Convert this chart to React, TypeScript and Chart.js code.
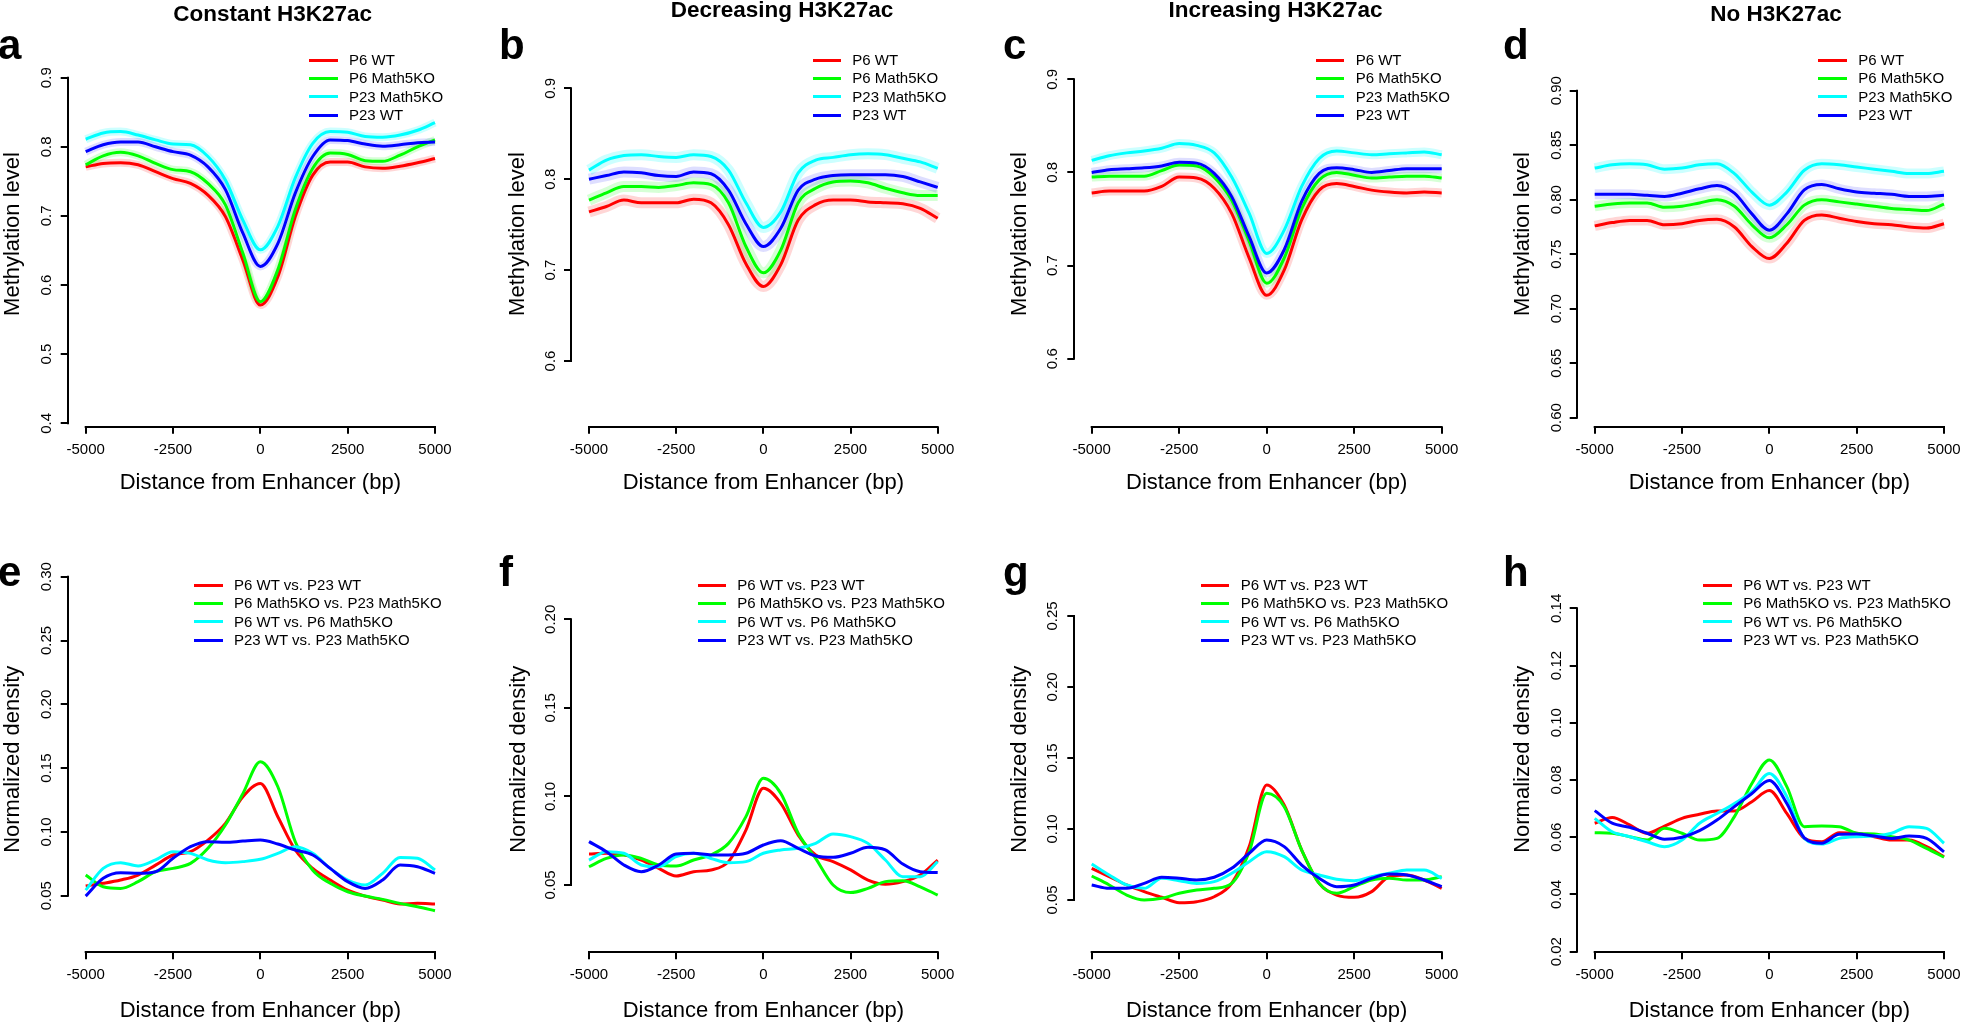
import React, { useEffect, useRef } from "react";
import { Chart, registerables } from "chart.js";

Chart.register(...registerables);

const FONT = "'Liberation Sans', Arial, Helvetica, sans-serif";
Chart.defaults.font.family = FONT;
Chart.defaults.color = "#000";

// ---------------- shared axis data ----------------
const distanceBp = [-5000, -4500, -4000, -3500, -3000, -2500, -2000, -1500, -1000, -500, 0, 500, 1000, 1500, 2000, 2500, 3000, 3500, 4000, 4500, 5000];
const xTickValues = [-5000, -2500, 0, 2500, 5000];
const xTickLabels = ["-5000", "-2500", "0", "2500", "5000"];
const xAxisTitle = "Distance from Enhancer (bp)";
const methylationAxisTitle = "Methylation level";
const densityAxisTitle = "Normalized density";

const methylationNames = ["P6 WT", "P6 Math5KO", "P23 Math5KO", "P23 WT"];
const densityNames = ["P6 WT vs. P23 WT", "P6 Math5KO vs. P23 Math5KO", "P6 WT vs. P6 Math5KO", "P23 WT vs. P23 Math5KO"];
const lineColors = ["#ff0000", "#00ff00", "#00ffff", "#0000ff"];
const bandColors = ["rgba(255,0,0,0.16)", "rgba(0,255,0,0.16)", "rgba(0,255,255,0.2)", "rgba(0,0,255,0.13)"];

// ---------------- y ticks ----------------
const yTicksA = [0.4, 0.5, 0.6, 0.7, 0.8, 0.9];
const yLabelsA = ["0.4", "0.5", "0.6", "0.7", "0.8", "0.9"];
const yTicksBC = [0.6, 0.7, 0.8, 0.9];
const yLabelsBC = ["0.6", "0.7", "0.8", "0.9"];
const yTicksD = [0.6, 0.65, 0.7, 0.75, 0.8, 0.85, 0.9];
const yLabelsD = ["0.60", "0.65", "0.70", "0.75", "0.80", "0.85", "0.90"];
const yTicksE = [0.05, 0.1, 0.15, 0.2, 0.25, 0.3];
const yLabelsE = ["0.05", "0.10", "0.15", "0.20", "0.25", "0.30"];
const yTicksF = [0.05, 0.1, 0.15, 0.2];
const yLabelsF = ["0.05", "0.10", "0.15", "0.20"];
const yTicksG = [0.05, 0.1, 0.15, 0.2, 0.25];
const yLabelsG = ["0.05", "0.10", "0.15", "0.20", "0.25"];
const yTicksH = [0.02, 0.04, 0.06, 0.08, 0.1, 0.12, 0.14];
const yLabelsH = ["0.02", "0.04", "0.06", "0.08", "0.10", "0.12", "0.14"];

// ---------------- a: Constant H3K27ac ----------------
const constP6WT = [0.771, 0.776, 0.777, 0.774, 0.764, 0.754, 0.747, 0.730, 0.699, 0.636, 0.571, 0.612, 0.699, 0.759, 0.778, 0.778, 0.771, 0.769, 0.772, 0.777, 0.783];
const constP6KO = [0.774, 0.787, 0.792, 0.787, 0.776, 0.767, 0.764, 0.747, 0.716, 0.646, 0.576, 0.622, 0.709, 0.769, 0.791, 0.789, 0.780, 0.779, 0.788, 0.800, 0.810];
const constP23KO = [0.811, 0.820, 0.822, 0.817, 0.810, 0.804, 0.803, 0.786, 0.752, 0.694, 0.651, 0.685, 0.755, 0.805, 0.822, 0.821, 0.815, 0.814, 0.817, 0.824, 0.835];
const constP23WT = [0.793, 0.803, 0.807, 0.807, 0.800, 0.793, 0.788, 0.771, 0.738, 0.675, 0.627, 0.660, 0.733, 0.786, 0.810, 0.809, 0.804, 0.801, 0.803, 0.806, 0.807];

// ---------------- b: Decreasing H3K27ac ----------------
const decP6WT = [0.764, 0.770, 0.777, 0.774, 0.774, 0.774, 0.778, 0.774, 0.750, 0.707, 0.682, 0.706, 0.755, 0.772, 0.777, 0.777, 0.775, 0.774, 0.773, 0.768, 0.757];
const decP6KO = [0.777, 0.785, 0.792, 0.792, 0.791, 0.793, 0.796, 0.794, 0.774, 0.726, 0.697, 0.722, 0.774, 0.790, 0.797, 0.798, 0.796, 0.790, 0.785, 0.782, 0.782];
const decP23KO = [0.810, 0.821, 0.826, 0.827, 0.825, 0.824, 0.827, 0.825, 0.810, 0.774, 0.747, 0.764, 0.807, 0.821, 0.824, 0.827, 0.828, 0.827, 0.823, 0.819, 0.812];
const decP23WT = [0.800, 0.804, 0.808, 0.807, 0.804, 0.803, 0.808, 0.806, 0.788, 0.751, 0.726, 0.746, 0.788, 0.800, 0.804, 0.805, 0.805, 0.805, 0.803, 0.797, 0.791];

// ---------------- c: Increasing H3K27ac ----------------
const incP6WT = [0.778, 0.780, 0.780, 0.780, 0.785, 0.795, 0.794, 0.783, 0.756, 0.708, 0.668, 0.695, 0.749, 0.781, 0.788, 0.785, 0.781, 0.779, 0.778, 0.779, 0.778];
const incP6KO = [0.795, 0.796, 0.796, 0.796, 0.802, 0.808, 0.807, 0.795, 0.770, 0.726, 0.681, 0.708, 0.761, 0.792, 0.800, 0.797, 0.794, 0.795, 0.796, 0.796, 0.794];
const incP23KO = [0.813, 0.818, 0.821, 0.823, 0.826, 0.831, 0.829, 0.821, 0.795, 0.756, 0.713, 0.738, 0.785, 0.815, 0.823, 0.821, 0.819, 0.820, 0.821, 0.822, 0.819];
const incP23WT = [0.800, 0.803, 0.804, 0.805, 0.807, 0.811, 0.810, 0.799, 0.774, 0.731, 0.692, 0.717, 0.769, 0.799, 0.805, 0.803, 0.800, 0.802, 0.804, 0.804, 0.804];

// ---------------- d: No H3K27ac ----------------
const noP6WT = [0.776, 0.779, 0.781, 0.781, 0.777, 0.778, 0.781, 0.782, 0.775, 0.757, 0.746, 0.760, 0.781, 0.786, 0.783, 0.780, 0.778, 0.777, 0.775, 0.774, 0.778];
const noP6KO = [0.794, 0.796, 0.797, 0.797, 0.793, 0.794, 0.797, 0.800, 0.794, 0.777, 0.765, 0.777, 0.795, 0.800, 0.798, 0.796, 0.794, 0.792, 0.791, 0.790, 0.796];
const noP23KO = [0.829, 0.832, 0.833, 0.832, 0.828, 0.829, 0.832, 0.833, 0.824, 0.807, 0.795, 0.807, 0.827, 0.833, 0.832, 0.830, 0.828, 0.826, 0.824, 0.824, 0.826];
const noP23WT = [0.805, 0.805, 0.805, 0.804, 0.803, 0.806, 0.810, 0.813, 0.806, 0.787, 0.772, 0.787, 0.809, 0.814, 0.810, 0.807, 0.806, 0.805, 0.803, 0.803, 0.804];

// ---------------- e: density, constant ----------------
const constWtVsWt = [0.0576, 0.0597, 0.0623, 0.0662, 0.0740, 0.0819, 0.0845, 0.0936, 0.1067, 0.1276, 0.1380, 0.1119, 0.0858, 0.0714, 0.0623, 0.0544, 0.0497, 0.0466, 0.0435, 0.0440, 0.0435];
const constKoVsKo = [0.0662, 0.0570, 0.0557, 0.0610, 0.0688, 0.0714, 0.0753, 0.0871, 0.1054, 0.1300, 0.1550, 0.1354, 0.0923, 0.0700, 0.0597, 0.0531, 0.0497, 0.0471, 0.0440, 0.0414, 0.0382];
const constP6WtVsKo = [0.0544, 0.0714, 0.0759, 0.0733, 0.0780, 0.0845, 0.0832, 0.0780, 0.0759, 0.0767, 0.0785, 0.0832, 0.0884, 0.0832, 0.0714, 0.0623, 0.0584, 0.0675, 0.0800, 0.0793, 0.0701];
const constP23WtVsKo = [0.0497, 0.0636, 0.0680, 0.0675, 0.0688, 0.0793, 0.0884, 0.0923, 0.0918, 0.0928, 0.0936, 0.0905, 0.0858, 0.0819, 0.0714, 0.0610, 0.0557, 0.0623, 0.0740, 0.0727, 0.0675];

// ---------------- f: density, decreasing ----------------
const decWtVsWt = [0.0675, 0.0679, 0.0670, 0.0641, 0.0594, 0.0551, 0.0575, 0.0585, 0.0632, 0.0810, 0.1046, 0.0961, 0.0782, 0.0669, 0.0632, 0.0585, 0.0528, 0.0504, 0.0519, 0.0556, 0.0641];
const decKoVsKo = [0.0603, 0.0650, 0.0670, 0.0650, 0.0613, 0.0607, 0.0641, 0.0670, 0.0735, 0.0886, 0.1102, 0.1017, 0.0792, 0.0650, 0.0500, 0.0457, 0.0481, 0.0519, 0.0524, 0.0490, 0.0443];
const decP6WtVsKo = [0.0641, 0.0688, 0.0679, 0.0613, 0.0603, 0.0660, 0.0679, 0.0650, 0.0626, 0.0632, 0.0679, 0.0698, 0.0707, 0.0735, 0.0788, 0.0773, 0.0735, 0.0641, 0.0547, 0.0547, 0.0632];
const decP23WtVsKo = [0.0745, 0.0688, 0.0613, 0.0575, 0.0613, 0.0675, 0.0679, 0.0670, 0.0670, 0.0679, 0.0726, 0.0750, 0.0707, 0.0664, 0.0656, 0.0679, 0.0713, 0.0698, 0.0618, 0.0575, 0.0570];

// ---------------- g: density, increasing ----------------
const incWtVsWt = [0.0723, 0.0664, 0.0606, 0.0559, 0.0519, 0.0481, 0.0488, 0.0523, 0.0617, 0.0876, 0.1310, 0.1169, 0.0852, 0.0617, 0.0535, 0.0519, 0.0559, 0.0664, 0.0676, 0.0641, 0.0582];
const incKoVsKo = [0.0669, 0.0606, 0.0535, 0.0500, 0.0512, 0.0547, 0.0570, 0.0582, 0.0617, 0.0840, 0.1251, 0.1157, 0.0852, 0.0617, 0.0547, 0.0594, 0.0641, 0.0653, 0.0641, 0.0641, 0.0664];
const incP6WtVsKo = [0.0754, 0.0676, 0.0606, 0.0582, 0.0653, 0.0636, 0.0617, 0.0629, 0.0688, 0.0770, 0.0840, 0.0805, 0.0711, 0.0676, 0.0646, 0.0636, 0.0664, 0.0688, 0.0711, 0.0711, 0.0653];
const incP23WtVsKo = [0.0606, 0.0582, 0.0582, 0.0617, 0.0660, 0.0653, 0.0641, 0.0660, 0.0723, 0.0829, 0.0923, 0.0876, 0.0746, 0.0653, 0.0594, 0.0606, 0.0653, 0.0683, 0.0676, 0.0641, 0.0594];

// ---------------- h: density, no H3K27ac ----------------
const noWtVsWt = [0.0649, 0.0669, 0.0643, 0.0614, 0.0639, 0.0666, 0.0680, 0.0692, 0.0692, 0.0724, 0.0763, 0.0683, 0.0596, 0.0584, 0.0616, 0.0614, 0.0602, 0.0590, 0.0590, 0.0567, 0.0532];
const noKoVsKo = [0.0616, 0.0614, 0.0602, 0.0590, 0.0631, 0.0614, 0.0590, 0.0596, 0.0672, 0.0788, 0.0870, 0.0777, 0.0637, 0.0639, 0.0637, 0.0614, 0.0611, 0.0602, 0.0590, 0.0561, 0.0530];
const noP6WtVsKo = [0.0666, 0.0619, 0.0602, 0.0584, 0.0567, 0.0590, 0.0649, 0.0683, 0.0718, 0.0759, 0.0823, 0.0742, 0.0596, 0.0576, 0.0596, 0.0602, 0.0604, 0.0614, 0.0637, 0.0631, 0.0579];
const noP23WtVsKo = [0.0693, 0.0649, 0.0635, 0.0614, 0.0593, 0.0600, 0.0623, 0.0660, 0.0707, 0.0753, 0.0798, 0.0718, 0.0598, 0.0579, 0.0610, 0.0611, 0.0604, 0.0596, 0.0604, 0.0596, 0.0549];

// ---------------- layout (pixel geometry / styles) ----------------
const TICK_LEN = 7;
const AXIS_LW = 2;
const topLegendRows = [60, 78.3, 96.7, 115];
const bottomLegendRows = [585, 603.3, 621.7, 640];

const panels = [
  { letter: "a", title: "Constant H3K27ac", yTitle: methylationAxisTitle, names: methylationNames, values: [constP6WT, constP6KO, constP23KO, constP23WT], yTicks: yTicksA, yLabels: yLabelsA,
    L: { axisX: 67.7, tickLeftPx: 85.7, tickRightPx: 435, axisY: 426.7, tickTopPx: 77.7, tickBottomPx: 423.3, areaTop: 41.3, yTitleX: 12.7, xTitleY: 483, xLabelPad: 7.3, yLabelOffset: 21, titleX: 272.7, titleY: 13.3, letterX: -2, letterBaseline: 59.3, legendX1: 309.3, legendX2: 337.7, legendTextX: 350, legendRows: topLegendRows, bandWidth: 8 } },
  { letter: "b", title: "Decreasing H3K27ac", yTitle: methylationAxisTitle, names: methylationNames, values: [decP6WT, decP6KO, decP23KO, decP23WT], yTicks: yTicksBC, yLabels: yLabelsBC,
    L: { axisX: 571, tickLeftPx: 589, tickRightPx: 937.7, axisY: 426.7, tickTopPx: 88.3, tickBottomPx: 361, areaTop: 41.3, yTitleX: 517.5, xTitleY: 483, xLabelPad: 7.3, yLabelOffset: 20, titleX: 782, titleY: 9, letterX: 499, letterBaseline: 59.3, legendX1: 812.7, legendX2: 840.7, legendTextX: 853.3, legendRows: topLegendRows, bandWidth: 11 } },
  { letter: "c", title: "Increasing H3K27ac", yTitle: methylationAxisTitle, names: methylationNames, values: [incP6WT, incP6KO, incP23KO, incP23WT], yTicks: yTicksBC, yLabels: yLabelsBC,
    L: { axisX: 1074.3, tickLeftPx: 1091.7, tickRightPx: 1441.7, axisY: 426.7, tickTopPx: 79.3, tickBottomPx: 358.7, areaTop: 41.3, yTitleX: 1020, xTitleY: 483, xLabelPad: 7.3, yLabelOffset: 21, titleX: 1275.5, titleY: 9, letterX: 1003, letterBaseline: 59.3, legendX1: 1316, legendX2: 1344, legendTextX: 1356.7, legendRows: topLegendRows, bandWidth: 9 } },
  { letter: "d", title: "No H3K27ac", yTitle: methylationAxisTitle, names: methylationNames, values: [noP6WT, noP6KO, noP23KO, noP23WT], yTicks: yTicksD, yLabels: yLabelsD,
    L: { axisX: 1576.7, tickLeftPx: 1594.7, tickRightPx: 1944, axisY: 426.7, tickTopPx: 90.7, tickBottomPx: 417.7, areaTop: 41.3, yTitleX: 1523.3, xTitleY: 483, xLabelPad: 7.3, yLabelOffset: 19.4, titleX: 1776, titleY: 13.3, letterX: 1503, letterBaseline: 59.3, legendX1: 1818.3, legendX2: 1846.7, legendTextX: 1859.3, legendRows: topLegendRows, bandWidth: 10 } },
  { letter: "e", title: "", yTitle: densityAxisTitle, names: densityNames, values: [constWtVsWt, constKoVsKo, constP6WtVsKo, constP23WtVsKo], yTicks: yTicksE, yLabels: yLabelsE,
    L: { axisX: 67.7, tickLeftPx: 85.7, tickRightPx: 435, axisY: 952.3, tickTopPx: 576.7, tickBottomPx: 895.7, areaTop: 566.3, yTitleX: 12.7, xTitleY: 1010.8, xLabelPad: 6.7, yLabelOffset: 21, titleX: 0, titleY: 0, letterX: -2, letterBaseline: 586.7, legendX1: 194.3, legendX2: 222.7, legendTextX: 235, legendRows: bottomLegendRows, bandWidth: 0 } },
  { letter: "f", title: "", yTitle: densityAxisTitle, names: densityNames, values: [decWtVsWt, decKoVsKo, decP6WtVsKo, decP23WtVsKo], yTicks: yTicksF, yLabels: yLabelsF,
    L: { axisX: 571, tickLeftPx: 589, tickRightPx: 937.7, axisY: 952.3, tickTopPx: 619.3, tickBottomPx: 885, areaTop: 566.3, yTitleX: 519.3, xTitleY: 1010.8, xLabelPad: 6.7, yLabelOffset: 20, titleX: 0, titleY: 0, letterX: 499, letterBaseline: 586.7, legendX1: 697.7, legendX2: 726, legendTextX: 738.3, legendRows: bottomLegendRows, bandWidth: 0 } },
  { letter: "g", title: "", yTitle: densityAxisTitle, names: densityNames, values: [incWtVsWt, incKoVsKo, incP6WtVsKo, incP23WtVsKo], yTicks: yTicksG, yLabels: yLabelsG,
    L: { axisX: 1074.3, tickLeftPx: 1091.7, tickRightPx: 1441.7, axisY: 952.3, tickTopPx: 616, tickBottomPx: 900, areaTop: 566.3, yTitleX: 1020, xTitleY: 1010.8, xLabelPad: 6.7, yLabelOffset: 21, titleX: 0, titleY: 0, letterX: 1003, letterBaseline: 586.7, legendX1: 1201, legendX2: 1229.3, legendTextX: 1241.7, legendRows: bottomLegendRows, bandWidth: 0 } },
  { letter: "h", title: "", yTitle: densityAxisTitle, names: densityNames, values: [noWtVsWt, noKoVsKo, noP6WtVsKo, noP23WtVsKo], yTicks: yTicksH, yLabels: yLabelsH,
    L: { axisX: 1576.7, tickLeftPx: 1594.7, tickRightPx: 1944, axisY: 952.3, tickTopPx: 608.3, tickBottomPx: 951.7, areaTop: 566.3, yTitleX: 1523.3, xTitleY: 1010.8, xLabelPad: 6.7, yLabelOffset: 19.4, titleX: 0, titleY: 0, letterX: 1503, letterBaseline: 586.7, legendX1: 1703.3, legendX2: 1731.7, legendTextX: 1744.3, legendRows: bottomLegendRows, bandWidth: 0 } },
];

// draws R-style detached axis lines spanning first..last tick
const rAxisPlugin = {
  id: "rAxisLines",
  afterDraw(chart: any) {
    const ctx = chart.ctx;
    const xs = chart.scales.x;
    const ys = chart.scales.y;
    const xt = xs.ticks;
    const yt = ys.ticks;
    const h = AXIS_LW / 2;
    ctx.save();
    ctx.strokeStyle = "#000";
    ctx.lineWidth = AXIS_LW;
    ctx.beginPath();
    const yLine = Math.round(xs.top);
    ctx.moveTo(xs.getPixelForValue(xt[0].value) - h, yLine);
    ctx.lineTo(xs.getPixelForValue(xt[xt.length - 1].value) + h, yLine);
    const xLine = Math.round(ys.right);
    ctx.moveTo(xLine, ys.getPixelForValue(yt[0].value) + h);
    ctx.lineTo(xLine, ys.getPixelForValue(yt[yt.length - 1].value) - h);
    ctx.stroke();
    ctx.restore();
  },
};

function PanelChart({ p }: { p: any }) {
  const ref = useRef<HTMLCanvasElement | null>(null);
  const L = p.L;
  const sideGap = L.tickLeftPx - L.axisX;
  const areaRight = L.tickRightPx + sideGap;
  const cLeft = Math.floor(L.yTitleX - 20);
  const cTop = Math.floor(L.areaTop) - 24;
  const cRight = Math.ceil(areaRight) + 1;
  const cBottom = Math.ceil(L.xTitleY + 18);
  const W = cRight - cLeft;
  const H = cBottom - cTop;

  useEffect(() => {
    const canvas = ref.current;
    if (!canvas) return;
    const xt0 = xTickValues[0];
    const xt1 = xTickValues[xTickValues.length - 1];
    const ppuX = (L.tickRightPx - L.tickLeftPx) / (xt1 - xt0);
    const xMin = xt0 - sideGap / ppuX;
    const xMax = xt1 + (areaRight - L.tickRightPx) / ppuX;
    const yt0 = p.yTicks[0];
    const yt1 = p.yTicks[p.yTicks.length - 1];
    const ppuY = (L.tickBottomPx - L.tickTopPx) / (yt1 - yt0);
    const yMin = yt0 - (L.axisY - L.tickBottomPx) / ppuY;
    const yMax = yt1 + (L.tickTopPx - L.areaTop) / ppuY;

    const m = document.createElement("canvas").getContext("2d") as CanvasRenderingContext2D;
    m.font = `15px ${FONT}`;
    const widest = Math.max(...p.yLabels.map((s: string) => m.measureText(s).width));
    const yPad = L.yLabelOffset - TICK_LEN - widest / 2;

    const order = [3, 2, 1, 0];
    const lineSets = order.map((i) => ({
      label: p.names[i],
      data: distanceBp.map((x, k) => ({ x, y: p.values[i][k] })),
      borderColor: lineColors[i],
      backgroundColor: lineColors[i],
      borderWidth: 3,
      pointRadius: 0,
      fill: false,
      cubicInterpolationMode: "monotone",
      order: 0,
    }));
    const bandSets = L.bandWidth > 0
      ? order.map((i) => ({
          label: p.names[i] + " band",
          data: distanceBp.map((x, k) => ({ x, y: p.values[i][k] })),
          borderColor: bandColors[i],
          backgroundColor: bandColors[i],
          borderWidth: L.bandWidth,
          pointRadius: 0,
          fill: false,
          cubicInterpolationMode: "monotone",
          order: 1,
        }))
      : [];

    const chart = new Chart(canvas, {
      type: "line",
      data: { datasets: [...lineSets, ...bandSets] as any },
      options: {
        responsive: false,
        maintainAspectRatio: false,
        animation: false,
        devicePixelRatio: 1,
        events: [],
        layout: {
          autoPadding: false,
          padding: { left: 0, top: L.areaTop - cTop, right: cRight - areaRight, bottom: 0 },
        },
        plugins: { legend: { display: false }, tooltip: { enabled: false }, title: { display: false } },
        scales: {
          x: {
            type: "linear",
            min: xMin,
            max: xMax,
            bounds: "data",
            afterBuildTicks: (s: any) => { s.ticks = xTickValues.map((v) => ({ value: v })); },
            afterFit: (s: any) => { s.height = cBottom - L.axisY; s.paddingLeft = 0; s.paddingRight = 0; s.paddingTop = 0; s.paddingBottom = 0; },
            grid: { display: true, drawOnChartArea: false, drawTicks: true, tickLength: TICK_LEN, color: "#000", lineWidth: AXIS_LW },
            border: { display: false },
            ticks: {
              autoSkip: false, maxRotation: 0, minRotation: 0, padding: L.xLabelPad,
              font: { size: 15, family: FONT }, color: "#000",
              callback: (_v: any, i: number) => xTickLabels[i],
            },
            title: {
              display: true, text: xAxisTitle, color: "#000",
              font: { size: 22, family: FONT },
              padding: { top: 0, bottom: cBottom - L.xTitleY - 13.2 },
            },
          },
          y: {
            type: "linear",
            min: yMin,
            max: yMax,
            bounds: "data",
            afterBuildTicks: (s: any) => { s.ticks = p.yTicks.map((v: number) => ({ value: v })); },
            afterFit: (s: any) => { s.width = L.axisX - cLeft; s.paddingLeft = 0; s.paddingRight = 0; s.paddingTop = 0; s.paddingBottom = 0; },
            grid: { display: true, drawOnChartArea: false, drawTicks: true, tickLength: TICK_LEN, color: "#000", lineWidth: AXIS_LW },
            border: { display: false },
            ticks: {
              autoSkip: false, minRotation: 90, maxRotation: 90, crossAlign: "center", padding: yPad,
              font: { size: 15, family: FONT }, color: "#000",
              callback: (_v: any, i: number) => p.yLabels[i],
            },
            title: {
              display: true, text: p.yTitle, color: "#000",
              font: { size: 22, family: FONT },
              padding: { top: L.yTitleX - cLeft - 13.2, bottom: 0 },
            },
          },
        },
      } as any,
      plugins: [rAxisPlugin],
    });
    return () => chart.destroy();
  }, []);

  return (
    <canvas
      ref={ref}
      width={W}
      height={H}
      style={{ position: "absolute", left: cLeft, top: cTop, width: W, height: H }}
    />
  );
}

function PanelDecor({ p }: { p: any }) {
  const L = p.L;
  const letterSize = 42;
  return (
    <>
      {p.title ? (
        <div style={{ position: "absolute", left: L.titleX, top: L.titleY, transform: "translate(-50%, -50%)", fontFamily: FONT, fontWeight: "bold", fontSize: 22.5, lineHeight: "23px", whiteSpace: "nowrap", color: "#000" }}>
          {p.title}
        </div>
      ) : null}
      <div style={{ position: "absolute", left: L.letterX, top: L.letterBaseline - letterSize / 2 - 0.3465 * letterSize, fontFamily: FONT, fontWeight: "bold", fontSize: letterSize, lineHeight: `${letterSize}px`, color: "#000" }}>
        {p.letter}
      </div>
      {p.names.map((name: string, i: number) => (
        <React.Fragment key={name}>
          <div style={{ position: "absolute", left: L.legendX1, top: L.legendRows[i] - 1.5, width: L.legendX2 - L.legendX1, height: 3, background: lineColors[i] }} />
          <div style={{ position: "absolute", left: L.legendTextX - 1, top: L.legendRows[i] - 9, fontFamily: FONT, fontSize: 15, lineHeight: "18px", whiteSpace: "nowrap", color: "#000" }}>
            {name}
          </div>
        </React.Fragment>
      ))}
    </>
  );
}

export default function App() {
  return (
    <div style={{ position: "absolute", left: 0, top: 0, width: 1961, height: 1023, overflow: "hidden", background: "#fff" }}>
      {panels.map((p) => (
        <PanelChart key={"c" + p.letter} p={p} />
      ))}
      {panels.map((p) => (
        <PanelDecor key={"d" + p.letter} p={p} />
      ))}
    </div>
  );
}
